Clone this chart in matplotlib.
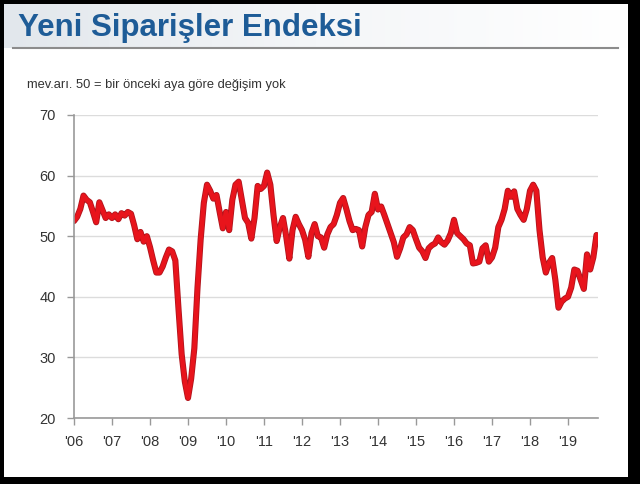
import numpy as np
import matplotlib
matplotlib.use('Agg')
import matplotlib.pyplot as plt
from matplotlib.patches import Rectangle
from matplotlib.lines import Line2D
import matplotlib.patheffects as pe

plt.rcParams['font.family'] = ['Liberation Sans', 'DejaVu Sans']

# monthly index values, Jan 2006 - Oct 2019
y2006 = [52.5, 53.2, 54.5, 56.7, 56.0, 55.6, 54.0, 52.3, 55.6, 54.3, 53.0, 53.6]
y2007 = [53.0, 53.6, 52.8, 53.8, 53.4, 54.0, 53.7, 51.8, 49.5, 50.7, 49.1, 50.0]
y2008 = [48.2, 46.0, 44.0, 44.0, 45.0, 46.5, 47.8, 47.5, 46.0, 38.0, 30.5, 26.0]
y2009 = [23.3, 26.5, 31.5, 41.5, 49.5, 55.5, 58.5, 57.5, 56.2, 56.8, 54.0, 51.3]
y2010 = [54.0, 51.0, 56.0, 58.5, 59.0, 56.0, 53.0, 52.2, 49.6, 53.0, 58.3, 57.8]
y2011 = [58.3, 60.5, 58.5, 53.5, 49.2, 51.5, 53.0, 50.0, 46.3, 51.0, 53.2, 52.0]
y2012 = [51.0, 49.4, 46.6, 50.5, 52.0, 50.0, 49.8, 48.1, 50.3, 51.5, 52.0, 53.5]
y2013 = [55.5, 56.3, 54.5, 52.5, 51.0, 51.2, 51.0, 48.3, 51.5, 53.5, 54.0, 57.0]
y2014 = [54.4, 54.9, 53.5, 52.0, 50.5, 49.0, 46.6, 48.0, 49.8, 50.3, 51.5, 51.0]
y2015 = [49.5, 48.1, 47.5, 46.4, 48.0, 48.5, 48.8, 49.8, 49.0, 48.6, 49.3, 50.5]
y2016 = [52.7, 50.5, 50.0, 49.5, 48.8, 48.5, 45.5, 45.6, 45.8, 48.0, 48.5, 45.8]
y2017 = [46.5, 48.1, 51.5, 52.7, 54.5, 57.5, 56.5, 57.4, 54.5, 53.5, 52.7, 54.5]
y2018 = [57.5, 58.5, 57.5, 51.0, 46.5, 44.0, 45.6, 46.4, 42.8, 38.2, 39.2, 39.7]
y2019 = [40.0, 41.5, 44.5, 44.3, 42.8, 41.3, 47.0, 44.5, 46.5, 50.2]

years = list(range(2006, 2020))
year_labels = ["'06", "'07", "'08", "'09", "'10", "'11", "'12", "'13",
               "'14", "'15", "'16", "'17", "'18", "'19"]

values = (y2006 + y2007 + y2008 + y2009 + y2010 + y2011 + y2012 + y2013
          + y2014 + y2015 + y2016 + y2017 + y2018 + y2019)
x = 2006 + np.arange(len(values)) / 12.0

W, H = 640, 484
fig = plt.figure(figsize=(6.4, 4.84), dpi=100, facecolor='black')

# white page inside the black frame
fig.patches.append(Rectangle((4 / W, 7 / H), 624 / W, 473 / H,
                             transform=fig.transFigure, facecolor='white',
                             edgecolor='none', zorder=-10))

# title band with light gradient
band = fig.add_axes([4 / W, 1 - 48 / H, 624 / W, 44 / H])
grad = np.linspace(0, 1, 256).reshape(1, -1)
band.imshow(grad, aspect='auto', cmap=matplotlib.colors.LinearSegmentedColormap.from_list(
    'band', ['#e2e7ec', '#f4f6f8', '#ffffff']), extent=[0, 1, 0, 1])
band.axis('off')
fig.add_artist(Line2D([13 / W, 618 / W], [1 - 48 / H, 1 - 48 / H],
                      transform=fig.transFigure, color='#8c8c8c', lw=1.5))

fig.text(18 / W, 1 - 28 / H, 'Yeni Siparişler Endeksi', fontsize=22.5,
         fontweight='bold', color='#1e5c97', va='center', ha='left')
fig.text(27 / W, 1 - 85 / H, 'mev.arı. 50 = bir önceki aya göre değişim yok',
         fontsize=9.3, color='#333333', va='center', ha='left')

ax = fig.add_axes([74 / W, 1 - 418 / H, 524 / W, 303 / H])
ax.set_facecolor('none')
ax.plot(x, values, color='#e8141c', lw=3.2, solid_joinstyle='round',
        solid_capstyle='round',
        path_effects=[pe.Stroke(linewidth=4.4, foreground='#b0141c'), pe.Normal()])

ax.set_xlim(2006, 2006 + 524 / 38.0)
ax.set_ylim(20, 70)
ax.set_yticks([20, 30, 40, 50, 60, 70])
ax.set_xticks(years)
ax.set_xticklabels(year_labels)
ax.grid(axis='y', color='#dcdcdc', lw=1.0)
ax.set_axisbelow(True)
for s in ['top', 'right']:
    ax.spines[s].set_visible(False)
for s in ['left', 'bottom']:
    ax.spines[s].set_color('#999999')
    ax.spines[s].set_linewidth(1.2)
ax.tick_params(axis='both', colors='#999999', length=5, width=1.0,
               labelsize=10.5, labelcolor='#333333')
ax.tick_params(axis='x', pad=7)
ax.tick_params(axis='y', pad=8)

fig.savefig('out.png', dpi=100, facecolor='black')
